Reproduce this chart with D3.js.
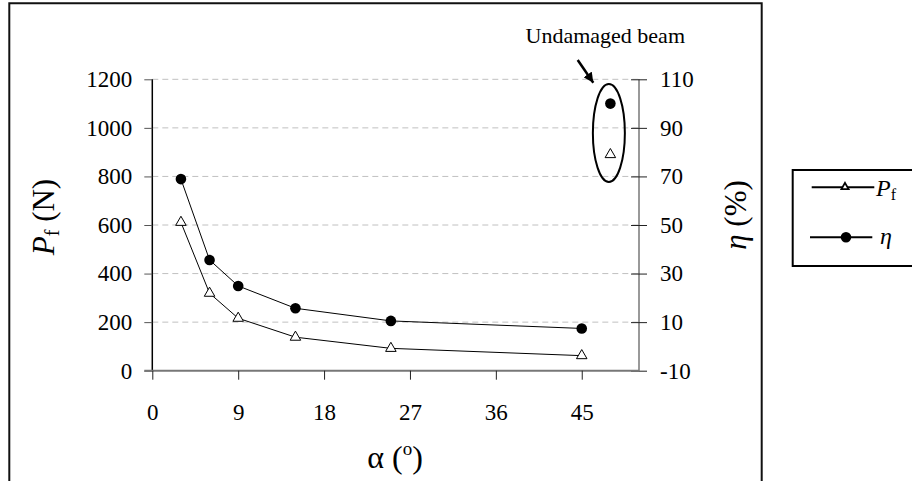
<!DOCTYPE html>
<html>
<head>
<meta charset="utf-8">
<script src="https://cdn.jsdelivr.net/npm/d3@7"></script>
<style>
  body { margin: 0; background: #fff; }
  svg { display: block; font-family: "Liberation Serif", "Times New Roman", serif; }
</style>
</head>
<body>
<svg id="chart" width="912" height="481"></svg>
<script>
// values
const alpha = [3, 6, 9, 15, 25, 45];
const pf = [611, 319, 216, 138, 92, 62];
const eta = [68.9, 35.6, 24.9, 15.7, 10.5, 7.4];
const undamagedAlpha = [48];
const undamagedPf = [890];
const undamagedEta = [100];

const xTicks = [0, 9, 18, 27, 36, 45];
const pfTicks = [0, 200, 400, 600, 800, 1000, 1200];
const etaTicks = [-10, 10, 30, 50, 70, 90, 110];

const svg = d3.select("#chart");

const plotL = 152.3, plotR = 639, plotT = 79.3, plotB = 370.7;
const x = d3.scaleLinear([0, 51], [plotL, plotR]);
const yP = d3.scaleLinear([0, 1200], [plotB, plotT]);
const yE = d3.scaleLinear([-10, 110], [plotB, plotT]);
const plain = d => String(d);   // no thousands comma, ascii minus

// outer frame (bottom edge is cut off)
svg.append("path")
  .attr("d", `M9.3,481 V3.3 H761.7 V481`)
  .attr("fill", "none")
  .attr("stroke", "#111")
  .attr("stroke-width", 2);

// gridlines
svg.append("g")
  .selectAll("line")
  .data(pfTicks.filter(d => d > 0))
  .join("line")
  .attr("x1", plotL).attr("x2", plotR)
  .attr("y1", d => yP(d)).attr("y2", d => yP(d))
  .attr("stroke", "#c0c0c0")
  .attr("stroke-dasharray", "6,4");

// left axis
const gl = svg.append("g").attr("transform", `translate(${plotL},0)`)
  .call(d3.axisLeft(yP).tickValues(pfTicks).tickFormat(plain).tickSize(8).tickPadding(12));
gl.select(".domain").attr("stroke", "#000").attr("stroke-width", 1.5).attr("d", `M0,${plotT}V${plotB}`);
gl.selectAll(".tick line").attr("stroke", "#555");
gl.selectAll(".tick text").attr("font-size", 23).attr("font-family", "Liberation Serif").attr("fill", "#000");

// right axis
const gr = svg.append("g").attr("transform", `translate(${plotR},0)`)
  .call(d3.axisRight(yE).tickValues(etaTicks).tickFormat(plain).tickSize(8).tickPadding(13));
gr.select(".domain").attr("stroke", "#777").attr("stroke-width", 1.5).attr("d", `M0,${plotT}V${plotB}`);
gr.selectAll(".tick line").attr("stroke", "#222").attr("x1", -8);
gr.selectAll(".tick text").attr("font-size", 23).attr("font-family", "Liberation Serif").attr("fill", "#000");

// bottom axis
const gb = svg.append("g").attr("transform", `translate(0,${plotB})`)
  .call(d3.axisBottom(x).tickValues(xTicks).tickFormat(plain).tickSize(9).tickPadding(24));
gb.select(".domain").attr("stroke", "#777").attr("stroke-width", 2).attr("d", `M${plotL - 8},0H${plotR}`);
gb.selectAll(".tick line").attr("stroke", "#222");
gb.selectAll(".tick text").attr("font-size", 23).attr("font-family", "Liberation Serif").attr("fill", "#000");

// series lines
const pts = alpha.map((a, i) => ({a, p: pf[i], e: eta[i]}));
svg.append("path").datum(pts)
  .attr("d", d3.line(d => x(d.a), d => yP(d.p)))
  .attr("fill", "none").attr("stroke", "#000").attr("stroke-width", 1);
svg.append("path").datum(pts)
  .attr("d", d3.line(d => x(d.a), d => yE(d.e)))
  .attr("fill", "none").attr("stroke", "#000").attr("stroke-width", 1);

const tri = d3.symbol(d3.symbolTriangle, 48);
const triPts = pts.concat(undamagedAlpha.map((a, i) => ({a, p: undamagedPf[i]})));
svg.append("g").selectAll("path")
  .data(triPts)
  .join("path")
  .attr("d", tri)
  .attr("transform", d => `translate(${x(d.a)},${yP(d.p)})`)
  .attr("fill", "#fff").attr("stroke", "#000").attr("stroke-width", 1);

const circPts = pts.concat(undamagedAlpha.map((a, i) => ({a, e: undamagedEta[i]})));
svg.append("g").selectAll("circle")
  .data(circPts)
  .join("circle")
  .attr("cx", d => x(d.a)).attr("cy", d => yE(d.e))
  .attr("r", 5.3)
  .attr("fill", "#000");

// undamaged beam annotation
const ux = x(undamagedAlpha[0]);
svg.append("ellipse")
  .attr("cx", ux - 1.5).attr("cy", 133)
  .attr("rx", 16).attr("ry", 49)
  .attr("fill", "none").attr("stroke", "#000").attr("stroke-width", 2);
svg.append("text")
  .attr("x", 685).attr("y", 43)
  .attr("text-anchor", "end")
  .attr("font-size", 22)
  .text("Undamaged beam");
svg.append("defs").append("marker")
  .attr("id", "arr").attr("viewBox", "0 0 10 10")
  .attr("refX", 10).attr("refY", 5)
  .attr("markerWidth", 4).attr("markerHeight", 4)
  .attr("markerUnits", "strokeWidth")
  .attr("orient", "auto")
  .append("path").attr("d", "M0,0L10,5L0,10z").attr("fill", "#000");
svg.append("line")
  .attr("x1", 577.7).attr("y1", 60)
  .attr("x2", 593.3).attr("y2", 82.7)
  .attr("stroke", "#000").attr("stroke-width", 2.5)
  .attr("marker-end", "url(#arr)");

// axis titles
const tl = svg.append("text")
  .attr("transform", "translate(54,217) rotate(-90)")
  .attr("text-anchor", "middle")
  .attr("font-size", 31);
tl.append("tspan").attr("font-style", "italic").text("P");
tl.append("tspan").attr("font-size", 20).attr("dy", 5).text("f");
tl.append("tspan").attr("dy", -5).text(" (N)");

const tr = svg.append("text")
  .attr("transform", "translate(746,215) rotate(-90)")
  .attr("text-anchor", "middle")
  .attr("font-size", 31);
tr.append("tspan").attr("font-style", "italic").text("η");
tr.append("tspan").text(" (%)");

const tb = svg.append("text")
  .attr("x", 395).attr("y", 468)
  .attr("text-anchor", "middle")
  .attr("font-size", 32);
tb.append("tspan").text("α (");
tb.append("tspan").attr("font-size", 19).attr("dy", -13).text("o");
tb.append("tspan").attr("dy", 13).text(")");

// legend
const lg = svg.append("g");
lg.append("rect")
  .attr("x", 792.7).attr("y", 170)
  .attr("width", 140).attr("height", 96)
  .attr("fill", "#fff").attr("stroke", "#000").attr("stroke-width", 2);
lg.append("line").attr("x1", 811.7).attr("x2", 874.3).attr("y1", 187.3).attr("y2", 187.3)
  .attr("stroke", "#000").attr("stroke-width", 2);
lg.append("path").attr("d", d3.symbol(d3.symbolTriangle, 22))
  .attr("transform", "translate(845,187)")
  .attr("fill", "#fff").attr("stroke", "#000").attr("stroke-width", 1.8);
const lt = lg.append("text").attr("x", 876).attr("y", 196).attr("font-size", 24);
lt.append("tspan").attr("font-style", "italic").text("P");
lt.append("tspan").attr("font-size", 16).attr("dy", 4).text("f");
lg.append("line").attr("x1", 810).attr("x2", 872.3).attr("y1", 237.3).attr("y2", 237.3)
  .attr("stroke", "#000").attr("stroke-width", 2);
lg.append("circle").attr("cx", 846).attr("cy", 237.3).attr("r", 5.3).attr("fill", "#000");
lg.append("text").attr("x", 880).attr("y", 244).attr("font-size", 24)
  .attr("font-style", "italic").text("η");
</script>
</body>
</html>
